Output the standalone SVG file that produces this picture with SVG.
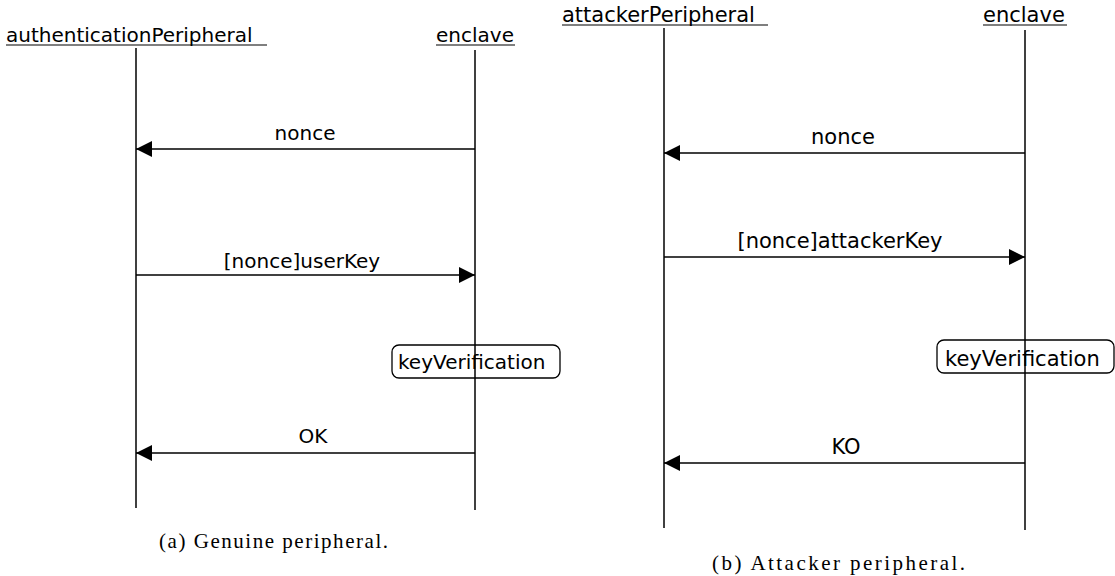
<svg xmlns="http://www.w3.org/2000/svg" width="1115" height="576" viewBox="0 0 1115 576">
  <style>
    .lbl { font-family: "DejaVu Sans", sans-serif; fill: #000; }
    .l { font-size: 20px; }
    .r { font-size: 21px; }
    .mid { text-anchor: middle; }
    .life { stroke: #000; stroke-width: 1.5; fill: none; }
    .ul { stroke: #000; stroke-width: 1.2; }
    .msg { stroke: #000; stroke-width: 1.5; fill: none; }
    .act { fill: #fff; stroke: #000; stroke-width: 1.3; }
    .cap { font-family: "Liberation Serif", "DejaVu Serif", serif; font-size: 21px; fill: #000; }
  </style>
  <defs>
    <marker id="head" viewBox="0 0 16 16" refX="16" refY="8" markerWidth="16" markerHeight="16" markerUnits="userSpaceOnUse" orient="auto">
      <path d="M0,0 L16,8 L0,16 Z" fill="#000"/>
    </marker>
  </defs>

  <!-- (a) genuine peripheral -->
  <g id="authenticationPeripheral">
    <text class="lbl l" x="6" y="42">authenticationPeripheral</text>
    <line class="ul" x1="6" y1="45" x2="267" y2="45"/>
    <line class="life" x1="136" y1="48" x2="136" y2="508"/>
  </g>
  <g id="enclaveA">
    <text class="lbl l" x="436" y="42">enclave</text>
    <line class="ul" x1="436" y1="45" x2="515" y2="45"/>
    <line class="life" x1="475" y1="50" x2="475" y2="510"/>
  </g>
  <g id="keyVerificationA">
    <rect class="act" x="392" y="345" width="168" height="33" rx="7"/>
    <line class="life" x1="475" y1="345" x2="475" y2="378"/>
    <text class="lbl l" x="398" y="369">keyVerification</text>
  </g>
  <g id="messagesA">
    <line class="msg" x1="475" y1="149" x2="136" y2="149" marker-end="url(#head)"/>
    <text class="lbl l mid" x="305" y="140">nonce</text>
    <line class="msg" x1="136" y1="275" x2="475" y2="275" marker-end="url(#head)"/>
    <text class="lbl l mid" x="302" y="268">[nonce]userKey</text>
    <line class="msg" x1="475" y1="453" x2="136" y2="453" marker-end="url(#head)"/>
    <text class="lbl l mid" x="313" y="443">OK</text>
  </g>
  <text class="cap" x="159" y="548" textLength="229">(a) Genuine peripheral.</text>

  <!-- (b) attacker peripheral -->
  <g id="attackerPeripheral">
    <text class="lbl r" x="562" y="22">attackerPeripheral</text>
    <line class="ul" x1="562" y1="25" x2="768" y2="25"/>
    <line class="life" x1="664" y1="28" x2="664" y2="528"/>
  </g>
  <g id="enclaveB">
    <text class="lbl r" x="983" y="22">enclave</text>
    <line class="ul" x1="983" y1="25" x2="1067" y2="25"/>
    <line class="life" x1="1025" y1="30" x2="1025" y2="530"/>
  </g>
  <g id="keyVerificationB">
    <rect class="act" x="937" y="340" width="177" height="33" rx="7"/>
    <line class="life" x1="1025" y1="340" x2="1025" y2="373"/>
    <text class="lbl r" x="945" y="366">keyVerification</text>
  </g>
  <g id="messagesB">
    <line class="msg" x1="1025" y1="153" x2="664" y2="153" marker-end="url(#head)"/>
    <text class="lbl r mid" x="843" y="144">nonce</text>
    <line class="msg" x1="664" y1="257" x2="1025" y2="257" marker-end="url(#head)"/>
    <text class="lbl r mid" x="840" y="248">[nonce]attackerKey</text>
    <line class="msg" x1="1025" y1="463" x2="664" y2="463" marker-end="url(#head)"/>
    <text class="lbl r mid" x="846" y="454">KO</text>
  </g>
  <text class="cap" x="712" y="570" textLength="253">(b) Attacker peripheral.</text>
</svg>
